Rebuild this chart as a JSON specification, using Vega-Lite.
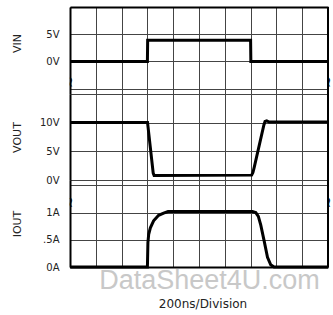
{
  "$schema": "https://vega.github.io/schema/vega-lite/v6.json",
  "background": "white",
  "padding": {"left": 10, "top": 6, "right": 0, "bottom": 1},
  "datasets": {
    "vin": [
      {"t": 0, "v": 0}, {"t": 600, "v": 0}, {"t": 602, "v": 3.9},
      {"t": 1400, "v": 3.9}, {"t": 1402, "v": 0}, {"t": 2000, "v": 0}
    ],
    "vout": [
      {"t": 0, "v": 10.05}, {"t": 601, "v": 10.05}, {"t": 645, "v": 1.2},
      {"t": 652, "v": 0.8}, {"t": 1408, "v": 0.85}, {"t": 1418, "v": 1.3},
      {"t": 1428, "v": 2.2}, {"t": 1503, "v": 9.6}, {"t": 1512, "v": 10.2},
      {"t": 1525, "v": 10.3}, {"t": 1545, "v": 10.1}, {"t": 2000, "v": 10.1}
    ],
    "iout": [
      {"t": 0, "i": 0}, {"t": 600, "i": 0}, {"t": 604, "i": 0.45},
      {"t": 610, "i": 0.6}, {"t": 623, "i": 0.72}, {"t": 648, "i": 0.85},
      {"t": 687, "i": 0.95}, {"t": 726, "i": 0.99}, {"t": 760, "i": 1.02},
      {"t": 1414, "i": 1.02}, {"t": 1440, "i": 1.0}, {"t": 1460, "i": 0.93},
      {"t": 1479, "i": 0.77}, {"t": 1505, "i": 0.48}, {"t": 1531, "i": 0.18},
      {"t": 1556, "i": 0.04}, {"t": 1582, "i": 0}, {"t": 2000, "i": 0}
    ]
  },
  "title": {
    "text": "200ns/Division",
    "orient": "bottom",
    "anchor": "middle",
    "frame": "group",
    "font": "DejaVu Sans",
    "fontSize": 12,
    "fontWeight": "normal",
    "color": "#222",
    "dx": 4,
    "offset": 6
  },
  "spacing": 0,
  "bounds": "flush",
  "vconcat": [
    {
      "width": 258,
      "height": 87,
      "layer": [
        {
          "data": {"name": "vin"},
          "mark": {"type": "line", "color": "black", "strokeWidth": 3},
          "encoding": {
            "x": {"field": "t", "type": "quantitative", "scale": {"domain": [0, 2000]},
              "axis": {"orient": "top", "values": [0,200,400,600,800,1000,1200,1400,1600,1800,2000], "grid": true, "labels": false, "ticks": false, "domain": true, "title": null}},
            "y": {"field": "v", "type": "quantitative", "scale": {"domain": [-5, 10]},
              "axis": {"values": [-5, 0, 5, 10], "labelExpr": "datum.value == 0 ? '0V' : datum.value == 5 ? '5V' : ''", "title": "VIN", "titleX": -48, "titleY": 36}}
          }
        },
        {
          "data": {"values": [{}]},
          "mark": {"type": "rule", "color": "black", "strokeWidth": 2},
          "encoding": {"x": {"datum": 2000, "type": "quantitative",
              "axis": {"orient": "top", "values": [0,200,400,600,800,1000,1200,1400,1600,1800,2000], "grid": true, "labels": false, "ticks": false, "domain": true, "title": null}}}
        },
        {
          "data": {"values": [{"t": 0, "v": -3.8}, {"t": 2000, "v": -3.8}]},
          "mark": {"type": "text", "text": "~", "angle": 90, "fontSize": 14, "font": "DejaVu Sans", "color": "black"},
          "encoding": {
            "x": {"field": "t", "type": "quantitative",
              "axis": {"orient": "top", "values": [0,200,400,600,800,1000,1200,1400,1600,1800,2000], "grid": true, "labels": false, "ticks": false, "domain": true, "title": null}},
            "y": {"field": "v", "type": "quantitative",
              "axis": {"values": [-5, 0, 5, 10], "labelExpr": "datum.value == 0 ? '0V' : datum.value == 5 ? '5V' : ''", "title": "VIN", "titleX": -48, "titleY": 36}}
          }
        }
      ]
    },
    {
      "width": 258,
      "height": 86,
      "layer": [
        {
          "data": {"name": "vout"},
          "mark": {"type": "line", "color": "black", "strokeWidth": 3},
          "encoding": {
            "x": {"field": "t", "type": "quantitative", "scale": {"domain": [0, 2000]},
              "axis": {"values": [0,200,400,600,800,1000,1200,1400,1600,1800,2000], "grid": true, "labels": false, "ticks": false, "domain": false, "title": null}},
            "y": {"field": "v", "type": "quantitative", "scale": {"domain": [0, 15]},
              "axis": {"values": [0, 5, 10, 15], "labelExpr": "datum.value <= 10 ? datum.value + 'V' : ''", "title": "VOUT", "titleX": -48}}
          }
        },
        {
          "data": {"values": [{}]},
          "mark": {"type": "rule", "color": "black", "strokeWidth": 2},
          "encoding": {"x": {"datum": 2000, "type": "quantitative",
              "axis": {"values": [0,200,400,600,800,1000,1200,1400,1600,1800,2000], "grid": true, "labels": false, "ticks": false, "domain": false, "title": null}}}
        }
      ]
    },
    {
      "width": 258,
      "height": 87,
      "layer": [
        {
          "data": {"name": "iout"},
          "mark": {"type": "line", "color": "black", "strokeWidth": 3},
          "encoding": {
            "x": {"field": "t", "type": "quantitative", "scale": {"domain": [0, 2000]},
              "axis": {"orient": "bottom", "values": [0,200,400,600,800,1000,1200,1400,1600,1800,2000], "grid": true, "labels": false, "ticks": false, "domain": true, "title": "DataSheet4U.com", "titleFont": "Liberation Sans", "titleFontSize": 27, "titleColor": "#c8c8c8", "titlePadding": 0, "titleX": 139}},
            "y": {"field": "i", "type": "quantitative", "scale": {"domain": [0, 1.5]},
              "axis": {"values": [0, 0.5, 1, 1.5], "labelExpr": "datum.value == 0 ? '0A' : datum.value == 0.5 ? '.5A' : datum.value == 1 ? '1A' : ''", "title": "IOUT", "titleX": -48}}
          }
        },
        {
          "data": {"values": [{}]},
          "mark": {"type": "rule", "color": "black", "strokeWidth": 2},
          "encoding": {"x": {"datum": 2000, "type": "quantitative",
              "axis": {"orient": "bottom", "values": [0,200,400,600,800,1000,1200,1400,1600,1800,2000], "grid": true, "labels": false, "ticks": false, "domain": true, "title": "DataSheet4U.com", "titleFont": "Liberation Sans", "titleFontSize": 27, "titleColor": "#c8c8c8", "titlePadding": 0, "titleX": 139}}}
        },
        {
          "data": {"values": [{"t": 0, "i": 1.19}, {"t": 2000, "i": 1.19}]},
          "mark": {"type": "text", "text": "~", "angle": 90, "fontSize": 14, "font": "DejaVu Sans", "color": "black"},
          "encoding": {
            "x": {"field": "t", "type": "quantitative",
              "axis": {"orient": "bottom", "values": [0,200,400,600,800,1000,1200,1400,1600,1800,2000], "grid": true, "labels": false, "ticks": false, "domain": true, "title": "DataSheet4U.com", "titleFont": "Liberation Sans", "titleFontSize": 27, "titleColor": "#c8c8c8", "titlePadding": 0, "titleX": 139}},
            "y": {"field": "i", "type": "quantitative",
              "axis": {"values": [0, 0.5, 1, 1.5], "labelExpr": "datum.value == 0 ? '0A' : datum.value == 0.5 ? '.5A' : datum.value == 1 ? '1A' : ''", "title": "IOUT", "titleX": -48}}
          }
        }
      ]
    }
  ],
  "config": {
    "view": {"stroke": null},
    "axis": {
      "gridColor": "#444",
      "gridWidth": 1,
      "gridOpacity": 1,
      "domainColor": "black",
      "domainWidth": 2,
      "ticks": false,
      "labelFont": "DejaVu Sans",
      "labelFontSize": 10,
      "labelColor": "#222",
      "labelPadding": 11,
      "titleFont": "DejaVu Sans",
      "titleFontSize": 11,
      "titleFontWeight": "normal",
      "titleColor": "#222"
    }
  }
}
